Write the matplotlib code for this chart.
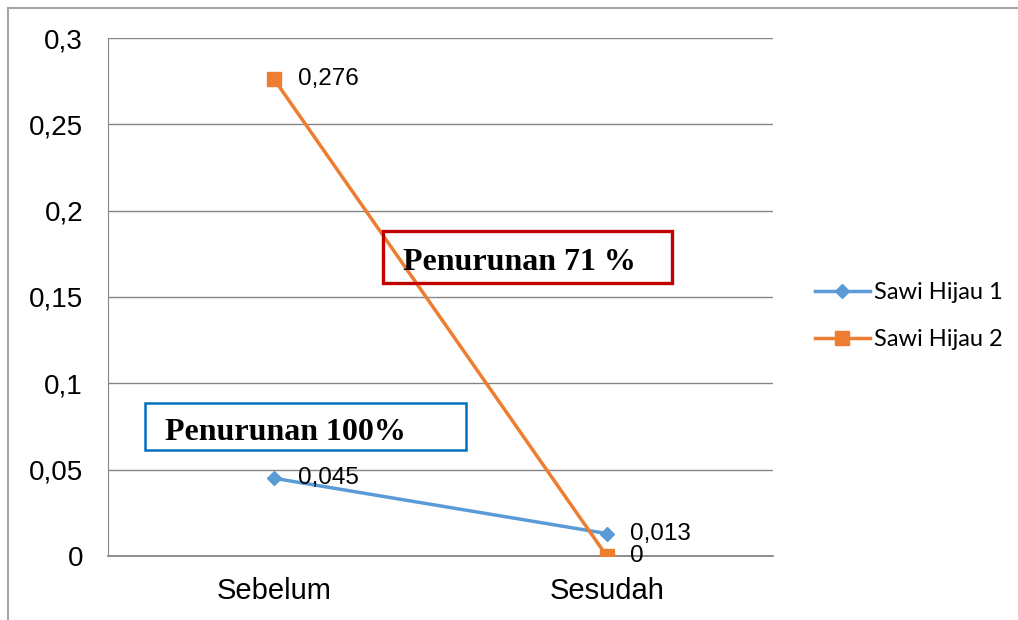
import matplotlib
matplotlib.use('Agg')
import matplotlib.pyplot as plt
from matplotlib.patches import Rectangle
from matplotlib.lines import Line2D

categories = ['Sebelum', 'Sesudah']
sawi1 = [0.045, 0.013]
sawi2 = [0.276, 0.0]
labels1 = ['0,045', '0,013']
labels2 = ['0,276', '0']
yticks = [0, 0.05, 0.1, 0.15, 0.2, 0.25, 0.3]
ytick_labels = ['0', '0,05', '0,1', '0,15', '0,2', '0,25', '0,3']

blue = '#5B9BD5'
orange = '#ED7D31'
gridc = '#868686'

plt.rcParams['font.family'] = ['Liberation Sans', 'DejaVu Sans']

fig = plt.figure(figsize=(10.18, 6.2), dpi=100)
ax = fig.add_axes([108/1018, 1-556/620, 665/1018, 518/620])

x = list(range(len(categories)))
ax.plot(x, sawi1, color=blue, lw=2.5, marker='D', ms=7.5, label='Sawi Hijau 1', zorder=3)
ax.plot(x, sawi2, color=orange, lw=2.5, marker='s', ms=9.5, label='Sawi Hijau 2', zorder=4)

for xi, v, t in zip(x, sawi1, labels1):
    ax.annotate(t, (xi, v), xytext=(17, 0), textcoords='offset points',
                va='center', ha='left', fontsize=17.5, color='black', zorder=5)
for xi, v, t in zip(x, sawi2, labels2):
    ax.annotate(t, (xi, v), xytext=(17, 0), textcoords='offset points',
                va='center', ha='left', fontsize=17.5, color='black', zorder=5)

ax.set_xlim(-0.5, 1.5)
ax.set_ylim(0, 0.3)
ax.set_xticks(x)
ax.set_xticklabels(categories, fontsize=21)
ax.set_yticks(yticks)
ax.set_yticklabels(ytick_labels, fontsize=20)
ax.tick_params(axis='x', length=0, pad=15)
ax.tick_params(axis='y', length=0, pad=18)
ax.yaxis.grid(True, color=gridc, lw=1)
ax.set_axisbelow(True)
for s in ['top', 'right']:
    ax.spines[s].set_visible(False)
ax.spines['left'].set_color(gridc)
ax.spines['bottom'].set_color(gridc)
ax.spines['bottom'].set_linewidth(1.3)

# annotation boxes
ax.add_patch(Rectangle((37/665, 106/518), 321/665, 47/518, transform=ax.transAxes,
                       fill=False, ec='#0070C0', lw=1.8, zorder=6, clip_on=False))
ax.text(57/665, 123/518, 'Penurunan 100%', transform=ax.transAxes, fontsize=23,
        fontweight='bold', family='Liberation Serif', va='center', ha='left', zorder=6)
ax.add_patch(Rectangle((275/665, 273/518), 289/665, 52/518, transform=ax.transAxes,
                       fill=False, ec='#C00000', lw=2.4, zorder=6, clip_on=False))
ax.text(295/665, 293/518, 'Penurunan 71 %', transform=ax.transAxes, fontsize=23,
        fontweight='bold', family='Liberation Serif', va='center', ha='left', zorder=6)

fig.legend(loc='center left', bbox_to_anchor=(794/1018, 1-316/620), frameon=False,
           prop={'family': 'Lato', 'size': 17}, handlelength=2.3, handletextpad=0.2,
           labelspacing=1.1)

# outer frame
fig.add_artist(Line2D([8/1018, 8/1018], [0, 1-8/620], transform=fig.transFigure, color='#A6A6A6', lw=1.5))
fig.add_artist(Line2D([8/1018, 1], [1-8/620, 1-8/620], transform=fig.transFigure, color='#A6A6A6', lw=1.5))

fig.savefig('out.png', dpi=100)
